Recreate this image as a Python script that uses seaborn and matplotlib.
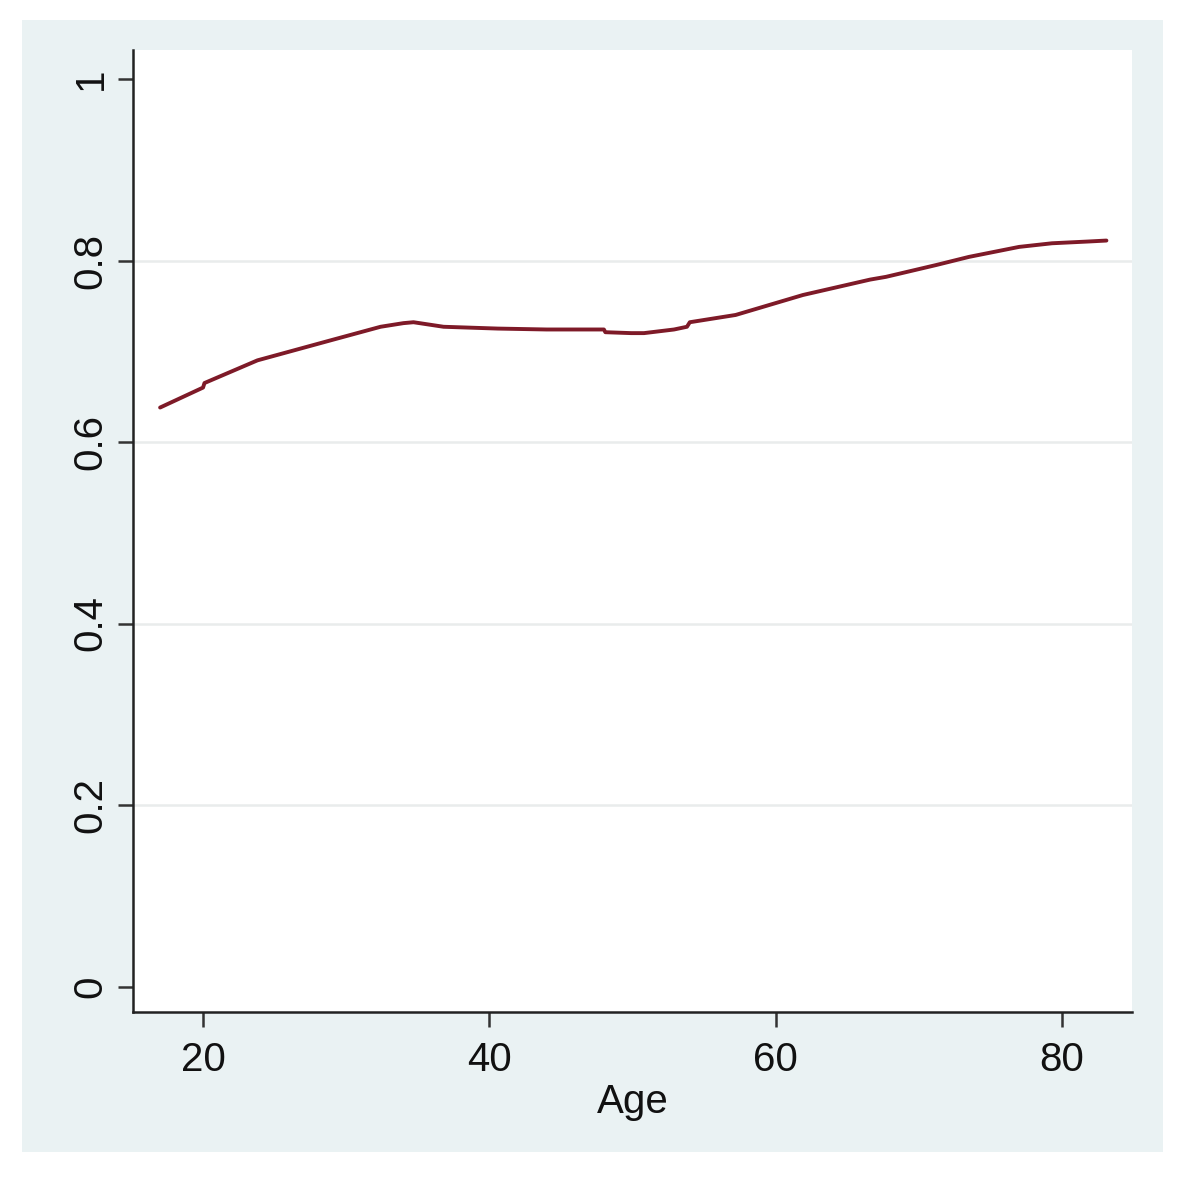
import matplotlib
matplotlib.use("Agg")
import matplotlib.pyplot as plt
from matplotlib.patches import Rectangle
import seaborn as sns
import pandas as pd

# values
age = [17.0, 20.0, 20.1, 23.8, 28.9, 32.4, 34.0, 34.7, 36.8, 40.6, 44.0,
       48.0, 48.1, 49.9, 50.8, 52.9, 53.8, 54.0, 57.2, 61.9, 66.6, 67.7,
       71.2, 73.5, 77.0, 79.3, 81.9, 83.1]
share = [0.638, 0.660, 0.665, 0.690, 0.712, 0.727, 0.731, 0.732, 0.727, 0.725, 0.724,
         0.724, 0.721, 0.720, 0.720, 0.724, 0.727, 0.732, 0.740, 0.762, 0.779, 0.782,
         0.795, 0.804, 0.815, 0.819, 0.821, 0.822]
x_ticks = [20, 40, 60, 80]
y_ticks = [0, 0.2, 0.4, 0.6, 0.8, 1]
y_labels = ["0", "0.2", "0.4", "0.6", "0.8", "1"]

df = pd.DataFrame({"Age": age, "share": share})

sns.set_theme(style="white")
plt.rcParams["font.family"] = ["Liberation Sans", "DejaVu Sans"]

fig = plt.figure(figsize=(11.9, 11.84), dpi=100, facecolor="white")
# stata-like graph region, kept behind the axes
fig.patches.append(Rectangle((0.0185, 0.027), 0.9588, 0.9561, transform=fig.transFigure,
                             facecolor="#EAF2F3", edgecolor="none", zorder=-5))
ax = fig.add_axes([0.1118, 0.1453, 0.8395, 0.8125])
ax.set_facecolor("white")

for yv in y_ticks[1:-1]:
    ax.axhline(yv, color="#E9ECEC", lw=1.8, zorder=1)

sns.lineplot(data=df, x="Age", y="share", ax=ax, color="#7E1A28", lw=2.8,
             estimator=None, sort=False, zorder=3)

ax.set_xlim(15.11, 84.89)
ax.set_ylim(-0.028, 1.032)
ax.set_xticks(x_ticks)
ax.set_yticks(y_ticks)
ax.set_yticklabels(y_labels, rotation=90, va="center")

for side in ["top", "right"]:
    ax.spines[side].set_visible(False)
for side in ["left", "bottom"]:
    ax.spines[side].set_color("#222222")
    ax.spines[side].set_linewidth(1.8)

ax.tick_params(axis="both", which="major", direction="out", length=11, width=1.8,
               bottom=True, left=True,
               color="#333333", labelsize=29, labelcolor="#111111")
ax.tick_params(axis="y", pad=6)
ax.tick_params(axis="x", pad=10)

ax.set_xlabel("Age", fontsize=29, color="#111111", labelpad=3)
ax.set_ylabel("")

fig.savefig("out.png", dpi=100, facecolor="white")
